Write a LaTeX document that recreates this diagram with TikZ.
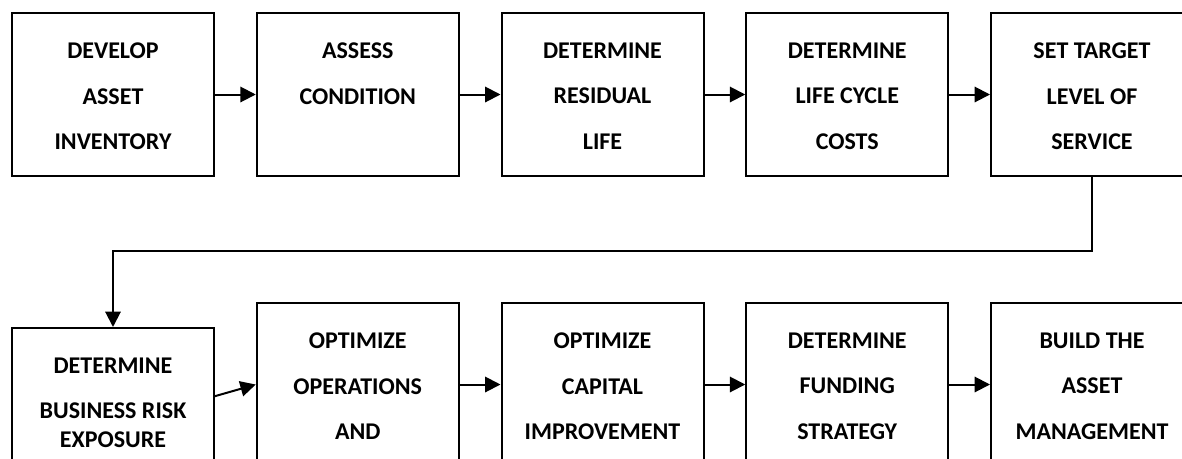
\documentclass[tikz,border=0pt]{standalone}
\usepackage{fontspec}
\setmainfont{Carlito}
\usetikzlibrary{positioning, arrows.meta}

\begin{document}
\begin{tikzpicture}[
    x=0.75pt, y=-0.75pt,
    % Process step: plain rectangle, placed by its top left corner
    stagebox/.style={rectangle, draw=black, line width=1.5pt,
        minimum width=151.5pt, minimum height=122.25pt,
        inner sep=0pt, anchor=north west},
    % Step caption: bold, one paragraph per line
    stagetext/.style={align=center, inner sep=0pt,
        font=\bfseries\fontsize{18}{34.1}\selectfont},
    % Arrow between steps
    flow/.style={-{Triangle[length=11.5pt, width=11.5pt]}, line width=1.5pt},
]

\path[use as bounding box] (0,0) rectangle (1182,458);
\clip (0,0) rectangle (1182,458);

% ====================================================
% TOP ROW
% ====================================================
\node[stagebox] (a1) at (11, 12) {};
\node[stagebox] (a2) at (255.75, 12) {};
\node[stagebox] (a3) at (500.5, 12) {};
\node[stagebox] (a4) at (745.25, 12) {};
\node[stagebox] (a5) at (990, 12) {};

\node[stagetext, below=23pt of a1.north] (a1-t) {DEVELOP\\ASSET\\INVENTORY};
\node[stagetext, below=23pt of a2.north] (a2-t) {ASSESS\\CONDITION};
\node[stagetext, below=23pt of a3.north] (a3-t) {DETERMINE\\RESIDUAL\\LIFE};
\node[stagetext, below=23pt of a4.north] (a4-t) {DETERMINE\\LIFE CYCLE\\COSTS};
\node[stagetext, below=23pt of a5.north] (a5-t) {SET TARGET\\LEVEL OF\\SERVICE};

\draw[flow] (a1) -- (a2);
\draw[flow] (a2) -- (a3);
\draw[flow] (a3) -- (a4);
\draw[flow] (a4) -- (a5);

% ====================================================
% BOTTOM ROW
% ====================================================
\node[stagebox] (b1) at (11, 327) {};
\node[stagebox] (b2) at (255.75, 302) {};
\node[stagebox] (b3) at (500.5, 302) {};
\node[stagebox] (b4) at (745.25, 302) {};
\node[stagebox] (b5) at (990, 302) {};

\node[stagetext, below=23pt of b1.north] (b1-t) {DETERMINE\\BUSINESS RISK\\[-12.35pt]EXPOSURE};
\node[stagetext, below=23pt of b2.north] (b2-t) {OPTIMIZE\\OPERATIONS\\AND};
\node[stagetext, below=23pt of b3.north] (b3-t) {OPTIMIZE\\CAPITAL\\IMPROVEMENT};
\node[stagetext, below=23pt of b4.north] (b4-t) {DETERMINE\\FUNDING\\STRATEGY};
\node[stagetext, below=23pt of b5.north] (b5-t) {BUILD THE\\ASSET\\MANAGEMENT};

\draw[flow] ([yshift=10pt]b1.east) -- (b2.west);
\draw[flow] (b2) -- (b3);
\draw[flow] (b3) -- (b4);
\draw[flow] (b4) -- (b5);

% ====================================================
% RETURN LINE FROM TOP ROW TO BOTTOM ROW
% ====================================================
\coordinate (bend) at (1091, 251);
\draw[flow] (a5.south) |- (bend) -| (b1.north);

\end{tikzpicture}
\end{document}
